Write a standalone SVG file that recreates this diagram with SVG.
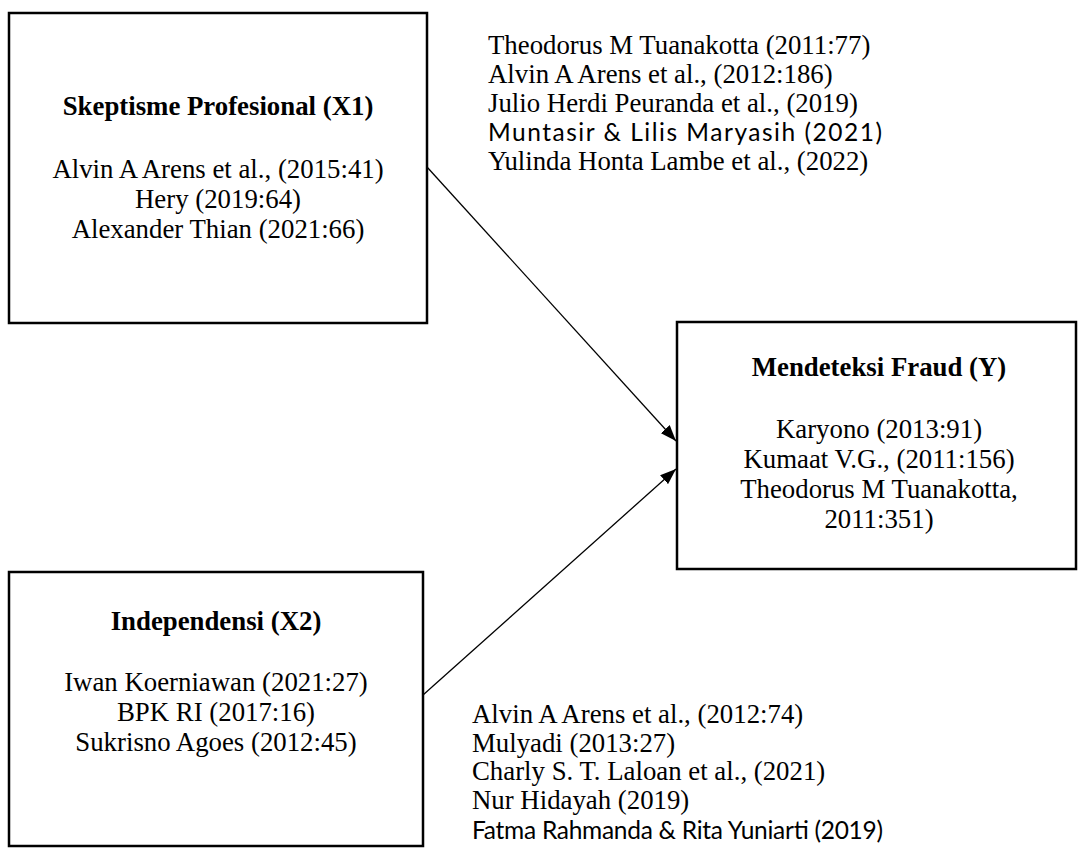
<svg xmlns="http://www.w3.org/2000/svg" width="1079" height="850" viewBox="0 0 1079 850">
<style>
.box{fill:#fff;stroke:#000;stroke-width:2.5}
.t{font-family:"Liberation Serif","Times New Roman",serif;font-size:26.8px;fill:#000}
.b{font-weight:bold}
.c{text-anchor:middle}
.cal{font-family:Lato,"Liberation Sans",sans-serif;font-size:24.5px;fill:#000}
.conn{stroke:#000;stroke-width:1.3;fill:none}
</style>
<defs>
<marker id="ah" viewBox="0 0 16 12" refX="16" refY="6" markerWidth="16" markerHeight="12" markerUnits="userSpaceOnUse" orient="auto">
<path d="M0,0 L16,6 L0,12 Z" fill="#000"/>
</marker>
</defs>
<rect width="1079" height="850" fill="#fff"/>
<g id="connectors">
<line class="conn" x1="427" y1="167" x2="676" y2="441" marker-end="url(#ah)"/>
<line class="conn" x1="423" y1="695" x2="676" y2="469" marker-end="url(#ah)"/>
</g>
<g id="node-x1">
<rect class="box" x="9" y="13" width="418" height="310"/>
<text class="t b c" x="218" y="115">Skeptisme Profesional (X1)</text>
<text class="t c" x="218" y="178">Alvin A Arens et al., (2015:41)</text>
<text class="t c" x="218" y="208">Hery (2019:64)</text>
<text class="t c" x="218" y="238">Alexander Thian (2021:66)</text>
</g>
<g id="node-y">
<rect class="box" x="677" y="322" width="399" height="247"/>
<text class="t b c" x="879" y="376">Mendeteksi Fraud (Y)</text>
<text class="t c" x="879" y="438">Karyono (2013:91)</text>
<text class="t c" x="879" y="468">Kumaat V.G., (2011:156)</text>
<text class="t c" x="879" y="498">Theodorus M Tuanakotta,</text>
<text class="t c" x="879" y="528">2011:351)</text>
</g>
<g id="node-x2">
<rect class="box" x="9" y="572" width="414" height="274"/>
<text class="t b c" x="216" y="630">Independensi (X2)</text>
<text class="t c" x="216" y="691">Iwan Koerniawan (2021:27)</text>
<text class="t c" x="216" y="721">BPK RI (2017:16)</text>
<text class="t c" x="216" y="751">Sukrisno Agoes (2012:45)</text>
</g>
<g id="refs-x1">
<text class="t" x="488" y="54">Theodorus M Tuanakotta (2011:77)</text>
<text class="t" x="488" y="83">Alvin A Arens et al., (2012:186)</text>
<text class="t" x="488" y="112">Julio Herdi Peuranda et al., (2019)</text>
<text class="cal" x="488" y="141" textLength="394">Muntasir &amp; Lilis Maryasih (2021)</text>
<text class="t" x="488" y="170">Yulinda Honta Lambe et al., (2022)</text>
</g>
<g id="refs-x2">
<text class="t" x="472" y="723">Alvin A Arens et al., (2012:74)</text>
<text class="t" x="472" y="752">Mulyadi (2013:27)</text>
<text class="t" x="472" y="780">Charly S. T. Laloan et al., (2021)</text>
<text class="t" x="472" y="809">Nur Hidayah (2019)</text>
<text class="cal" x="472" y="839" textLength="411">Fatma Rahmanda &amp; Rita Yuniarti (2019)</text>
</g>
</svg>
